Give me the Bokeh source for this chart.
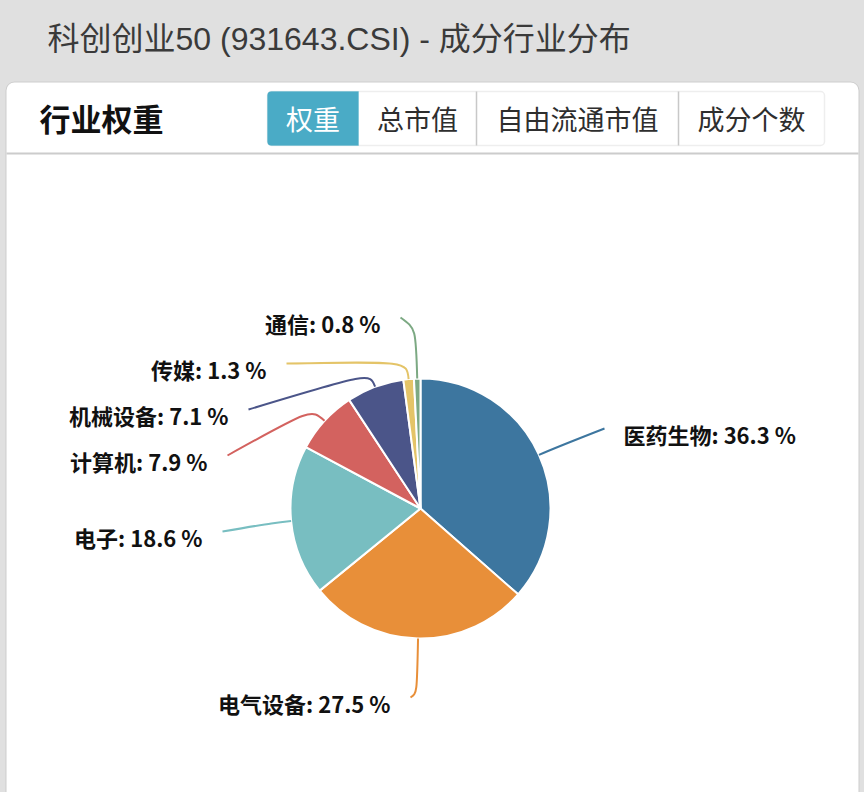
import math
from bokeh.plotting import figure
from bokeh.models import ColumnDataSource, BoxAnnotation, Range1d, GlobalInlineStyleSheet
from bokeh.core.properties import value
from bokeh.embed import file_html
from bokeh.resources import INLINE

# ---- data ----
title_text = "科创创业50 (931643.CSI) - 成分行业分布"
panel_title = "行业权重"
tab_labels = ["权重", "总市值", "自由流通市值", "成分个数"]
industries = ["医药生物", "电气设备", "电子", "计算机", "机械设备", "传媒", "通信"]
weights = [36.3, 27.5, 18.6, 7.9, 7.1, 1.3, 0.8]
colors = ["#3d769f", "#e88f39", "#78bec1", "#d3625f", "#4b5589", "#e4c468", "#7ca983"]

# ---- layout constants (page pixels) ----
W, H = 864, 792
def X(px): return px
def Y(py): return H - py

FONT = value("Noto Sans CJK SC")
CX, CY, R = 420, 508, 130
label_ends = [(604, 428), (410, 697), (222, 531), (227, 455), (248, 409), (286, 363), (400, 317)]
first_len = [15, 55, 15, 18, 15, 18, 50]
tab_edges = [267, 358, 476, 678, 824]

p = figure(width=W, height=H, x_range=Range1d(0, W), y_range=Range1d(0, H),
           output_backend="svg", toolbar_location=None, min_border=0,
           x_axis_location=None, y_axis_location=None)
p.grid.visible = False
p.outline_line_color = None
p.background_fill_color = "#e0e0e0"
p.border_fill_color = "#e0e0e0"
p.stylesheets = [GlobalInlineStyleSheet(css="body{background:#e0e0e0;}")]

# card with shadow
p.add_layout(BoxAnnotation(left=X(5), right=X(859), top=Y(81), bottom=-40,
                           fill_color="#cdcdcd", fill_alpha=1, line_color=None,
                           border_radius=9, level="underlay"))
p.add_layout(BoxAnnotation(left=X(6), right=X(858), top=Y(82), bottom=-40,
                           fill_color="white", fill_alpha=1, line_color=None,
                           border_radius=8, level="underlay"))
p.add_layout(BoxAnnotation(left=X(6), right=X(858), top=Y(152), bottom=Y(154),
                           fill_color="#cccccc", fill_alpha=1, line_color=None, level="underlay"))

# tabs (boxes under the text)
p.add_layout(BoxAnnotation(left=X(tab_edges[0]), right=X(tab_edges[-1]), top=Y(91), bottom=Y(145),
                           fill_color="white", fill_alpha=1, line_color="#c8c8c8", line_width=1.5,
                           border_radius=4, level="underlay"))
p.add_layout(BoxAnnotation(left=X(tab_edges[0]), right=X(tab_edges[1]), top=Y(91), bottom=Y(145),
                           fill_color="#4aabc6", fill_alpha=1, line_color="#4aabc6", line_width=1,
                           border_radius=(4, 0, 0, 4), level="underlay"))
p.segment(x0=[X(e) for e in tab_edges[2:-1]], y0=[Y(91)] * 2,
          x1=[X(e) for e in tab_edges[2:-1]], y1=[Y(145)] * 2, line_color="#c8c8c8", line_width=1.5)
tab_x = [X((tab_edges[i] + tab_edges[i + 1]) / 2) for i in range(len(tab_labels))]
tab_colors = ["white"] + ["#2e2e2e"] * (len(tab_labels) - 1)
p.text(x=tab_x, y=[Y(118)] * len(tab_labels), text=tab_labels, text_font=FONT,
       text_font_size="27px", text_color=tab_colors, text_baseline="middle", text_align="center")

# title
p.text(x=[X(47)], y=[Y(38)], text=[title_text], text_font=value("Liberation Sans, Noto Sans CJK SC"),
       text_font_size="32px", text_color="#3a3a3a", text_baseline="middle", text_align="left")
p.text(x=[X(39)], y=[Y(117)], text=[panel_title], text_font=FONT, text_font_size="31px",
       text_font_style="bold", text_color="#111111", text_baseline="middle", text_align="left")

# pie
total = sum(weights)
starts, ends, mids = [], [], []
c = 0.0
for w in weights:
    a0 = c / total * 2 * math.pi
    c += w
    a1 = c / total * 2 * math.pi
    starts.append(math.pi / 2 - a0)
    ends.append(math.pi / 2 - a1)
    mids.append((a0 + a1) / 2)

src = ColumnDataSource(dict(start=starts, end=ends, color=colors, name=industries, w=weights))
p.wedge(x=X(CX), y=Y(CY), radius=R, start_angle="start", end_angle="end", direction="clock",
        fill_color="color", line_color="white", line_width=2, source=src)

# leader lines + labels
lx, ly, la = [], [], []
for i, th in enumerate(mids):
    ex, ey = CX + R * math.sin(th), CY - R * math.cos(th)
    px_, py_ = ex + first_len[i] * math.sin(th), ey - first_len[i] * math.cos(th)
    tx, ty = label_ends[i]
    p.bezier(x0=[X(ex)], y0=[Y(ey)], x1=[X(tx)], y1=[Y(ty)],
             cx0=[X(px_)], cy0=[Y(py_)], cx1=[X(px_)], cy1=[Y(py_)],
             line_color=colors[i], line_width=2)
    if tx > CX:
        lx.append(X(tx + 19)); la.append("left")
    else:
        lx.append(X(tx - 20)); la.append("right")
    ly.append(Y(ty + 5))

labels = [f"{n}: {w} %" for n, w in zip(industries, weights)]
p.text(x=lx, y=ly, text=labels, text_align=la, text_font=FONT, text_font_size="22px",
       text_font_style="bold", text_color="#111111", text_baseline="middle")

open("out.html", "w").write(file_html(p, INLINE))
